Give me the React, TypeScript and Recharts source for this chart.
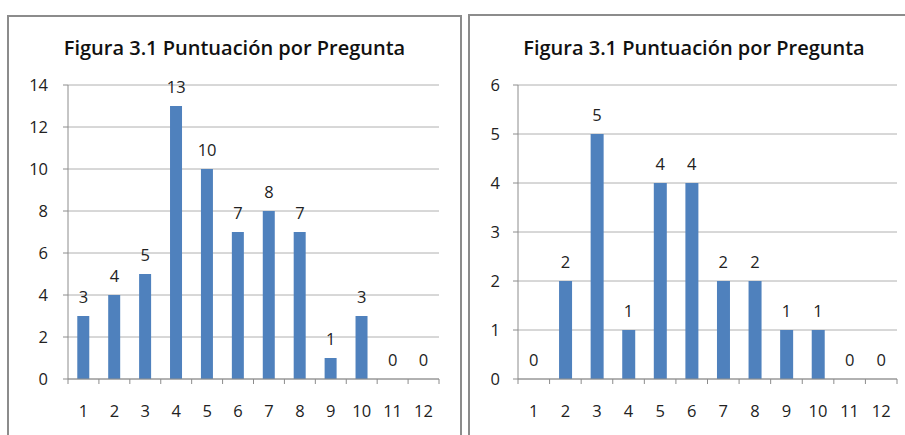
import React from 'react';
import { ComposedChart, Bar, Line, XAxis, YAxis, CartesianGrid, LabelList } from 'recharts';

const categories = ['1', '2', '3', '4', '5', '6', '7', '8', '9', '10', '11', '12'];
const leftValues = [3, 4, 5, 13, 10, 7, 8, 7, 1, 3, 0, 0];
const rightValues = [0, 2, 5, 1, 4, 4, 2, 2, 1, 1, 0, 0];
const leftTicks = [0, 2, 4, 6, 8, 10, 12, 14];
const rightTicks = [0, 1, 2, 3, 4, 5, 6];
const chartTitle = 'Figura 3.1 Puntuación por Pregunta';

const leftData = categories.map((c, i) => ({ name: c, value: leftValues[i] }));
const rightData = categories.map((c, i) => ({ name: c, value: rightValues[i] }));

const FONT = '"Open Sans", "Liberation Sans", sans-serif';
const BAR = '#4F81BD';
const AXIS = '#8c8c8c';
const GRID = '#b0b0b0';
const TEXT = '#222';
const X_MARGIN = 26;
const FS = 16.5;

const BoundaryTick = (props: any) => {
  const { x, y, payload, index, visibleTicksCount, width } = props;
  const half = payload && typeof payload.offset === 'number' && payload.offset > 0
    ? payload.offset
    : width / visibleTicksCount / 2;
  const axisY = y - X_MARGIN;
  return (
    <g>
      <line x1={x - half} x2={x - half} y1={axisY} y2={axisY + 5} stroke={AXIS} />
      {index === visibleTicksCount - 1 && (
        <line x1={x + half} x2={x + half} y1={axisY} y2={axisY + 5} stroke={AXIS} />
      )}
      <text x={x} y={y} dy="0.71em" textAnchor="middle" fill={TEXT} fontSize={FS} fontFamily={FONT}>
        {payload.value}
      </text>
    </g>
  );
};

function Chart({ data, ticks, max, width, margin, yWidth, yMargin }: any) {
  return (
    <ComposedChart width={width} height={435} data={data} margin={margin} barCategoryGap="30%">
      <CartesianGrid vertical={false} stroke={GRID} />
      <XAxis
        dataKey="name"
        height={56}
        tickLine={false}
        tickSize={0}
        tickMargin={X_MARGIN}
        axisLine={{ stroke: AXIS }}
        interval={0}
        tick={<BoundaryTick />}
      />
      <YAxis
        width={yWidth}
        domain={[0, max]}
        ticks={ticks}
        interval={0}
        tickSize={5}
        tickMargin={yMargin}
        axisLine={{ stroke: AXIS }}
        tickLine={{ stroke: AXIS }}
        tick={{ fill: TEXT, fontSize: FS, fontFamily: FONT }}
      />
      <Bar dataKey="value" fill={BAR} isAnimationActive={false} />
      <Line dataKey="value" stroke="none" dot={false} activeDot={false} isAnimationActive={false} legendType="none">
        <LabelList dataKey="value" position="top" offset={13} fill={TEXT} fontSize={FS} fontFamily={FONT} />
      </Line>
    </ComposedChart>
  );
}

const titleStyle = (left: number, width: number): React.CSSProperties => ({
  position: 'absolute',
  left,
  width,
  top: 36,
  lineHeight: '24px',
  textAlign: 'center',
  fontFamily: FONT,
  fontWeight: 600,
  fontSize: 20,
  color: '#111',
});

export default function App() {
  return (
    <div style={{ position: 'absolute', left: 0, top: 0, width: 905, height: 435, overflow: 'hidden', background: '#fff' }}>
      <div style={{ position: 'absolute', left: 7, top: 15, width: 451, height: 440, borderLeft: `2px solid ${AXIS}`, borderTop: `2px solid ${AXIS}`, borderRight: `2px solid ${AXIS}` }} />
      <div style={{ position: 'absolute', left: 468, top: 14, width: 460, height: 440, borderLeft: `2px solid ${AXIS}`, borderTop: `2px solid ${AXIS}` }} />
      <div style={{ position: 'absolute', left: 0, top: 0 }}>
        <Chart data={leftData} ticks={leftTicks} max={14} width={461} margin={{ top: 85, right: 22, bottom: 0, left: 8 }} yWidth={60} yMargin={15} />
      </div>
      <div style={{ position: 'absolute', left: 461, top: 0 }}>
        <Chart data={rightData} ticks={rightTicks} max={6} width={444} margin={{ top: 85, right: 8, bottom: 0, left: 0 }} yWidth={57} yMargin={13} />
      </div>
      <div style={titleStyle(8, 453)}>{chartTitle}</div>
      <div style={titleStyle(469, 450)}>{chartTitle}</div>
    </div>
  );
}
